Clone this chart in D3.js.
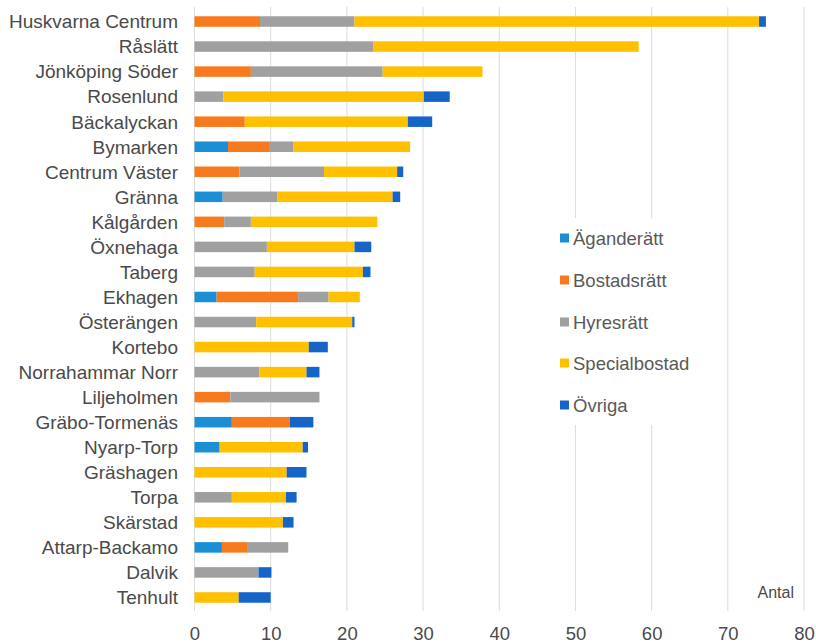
<!DOCTYPE html>
<html><head><meta charset="utf-8">
<script src="https://cdn.jsdelivr.net/npm/d3@7"></script>
<style>body{margin:0;background:#fff}svg{display:block}</style>
</head><body><svg id="c" width="816" height="644"></svg>
<script>
const categories = ["Huskvarna Centrum","Råslätt","Jönköping Söder","Rosenlund","Bäckalyckan","Bymarken","Centrum Väster","Gränna","Kålgården","Öxnehaga","Taberg","Ekhagen","Österängen","Kortebo","Norrahammar Norr","Liljeholmen","Gräbo-Tormenäs","Nyarp-Torp","Gräshagen","Torpa","Skärstad","Attarp-Backamo","Dalvik","Tenhult"];
const seriesNames = ["Äganderätt","Bostadsrätt","Hyresrätt","Specialbostad","Övriga"];
const aganderatt   = [0,0,0,0,0,4.4,0,3.7,0,0,0,2.9,0,0,0,0,4.9,3.3,0,0,0,3.6,0,0];
const bostadsratt  = [8.6,0,7.4,0,6.6,5.5,5.9,0,3.9,0,0,10.7,0,0,0,4.7,7.6,0,0,0,0,3.4,0,0];
const hyresratt    = [12.4,23.5,17.3,3.8,0,3.1,11.1,7.2,3.5,9.5,7.9,4.0,8.1,0,8.5,11.7,0,0,0,4.9,0,5.3,8.4,0];
const specialbostad= [53.1,34.8,13.1,26.3,21.4,15.3,9.6,15.1,16.6,11.5,14.2,4.1,12.6,15.0,6.2,0,0,10.9,12.1,7.1,11.6,0,0,5.8];
const ovriga       = [0.9,0,0,3.4,3.2,0,0.8,1.0,0,2.2,1.0,0,0.3,2.5,1.7,0,3.1,0.7,2.6,1.4,1.4,0,1.7,4.2];
const xTicks = [0,10,20,30,40,50,60,70,80];
const colors = ["#1a8fd6","#f77a1e","#a0a0a0","#ffc000","#1565c8"];
const FONT = "Liberation Sans, Arial, sans-serif";

const svg = d3.select("#c");
const x = d3.scaleLinear().domain([0,80]).range([194.5,804]);
const y = d3.scaleBand().domain(categories).range([9,610]).paddingInner(0.58).paddingOuter(0.29);

// gridlines
svg.append("g").selectAll("line").data(xTicks).join("line")
  .attr("x1",d=>x(d)).attr("x2",d=>x(d)).attr("y1",7).attr("y2",611)
  .attr("stroke","#dcdcdc").attr("stroke-width",1);

const stackData = categories.map((c,i)=>({cat:c,
  [seriesNames[0]]:aganderatt[i],[seriesNames[1]]:bostadsratt[i],[seriesNames[2]]:hyresratt[i],
  [seriesNames[3]]:specialbostad[i],[seriesNames[4]]:ovriga[i]}));
const stack = d3.stack().keys(seriesNames)(stackData);

svg.append("g").selectAll("g").data(stack).join("g")
  .attr("fill",(d,i)=>colors[i])
  .selectAll("rect").data(d=>d).join("rect")
  .attr("x",d=>x(d[0])).attr("width",d=>Math.max(0,x(d[1])-x(d[0])))
  .attr("y",d=>y(d.data.cat)).attr("height",y.bandwidth());

// category labels
const yAxis = svg.append("g").attr("transform","translate(178,0)")
  .call(d3.axisLeft(y).tickSize(0).tickPadding(0));
yAxis.select(".domain").remove();
yAxis.selectAll("text").attr("font-family",FONT)
  .attr("font-size",19).attr("fill","#4a4a4a").attr("dy","0.36em");

// x axis
const xAxis = svg.append("g").attr("transform","translate(0,640)")
  .call(d3.axisBottom(x).tickValues(xTicks).tickSize(0).tickPadding(0));
xAxis.select(".domain").remove();
xAxis.selectAll("text").attr("font-family",FONT)
  .attr("font-size",18.5).attr("fill","#4a4a4a").attr("dy","0");

// Antal
svg.append("text").attr("x",794).attr("y",598).attr("text-anchor","end")
  .attr("font-family",FONT).attr("font-size",16)
  .attr("fill","#4a4a4a").text("Antal");

// legend
svg.append("rect").attr("x",552).attr("y",218).attr("width",150).attr("height",207).attr("fill","#fff");
const legY = [238,280,322,363,405];
const leg = svg.append("g").selectAll("g").data(seriesNames).join("g")
  .attr("transform",(d,i)=>`translate(560,${legY[i]})`);
leg.append("rect").attr("x",0).attr("y",-4.5).attr("width",9).attr("height",9).attr("fill",(d,i)=>colors[i]);
leg.append("text").attr("x",13).attr("y",0).attr("dy","0.36em")
  .attr("font-family",FONT).attr("font-size",18.5)
  .attr("fill","#595959").text(d=>d);
</script></body></html>
